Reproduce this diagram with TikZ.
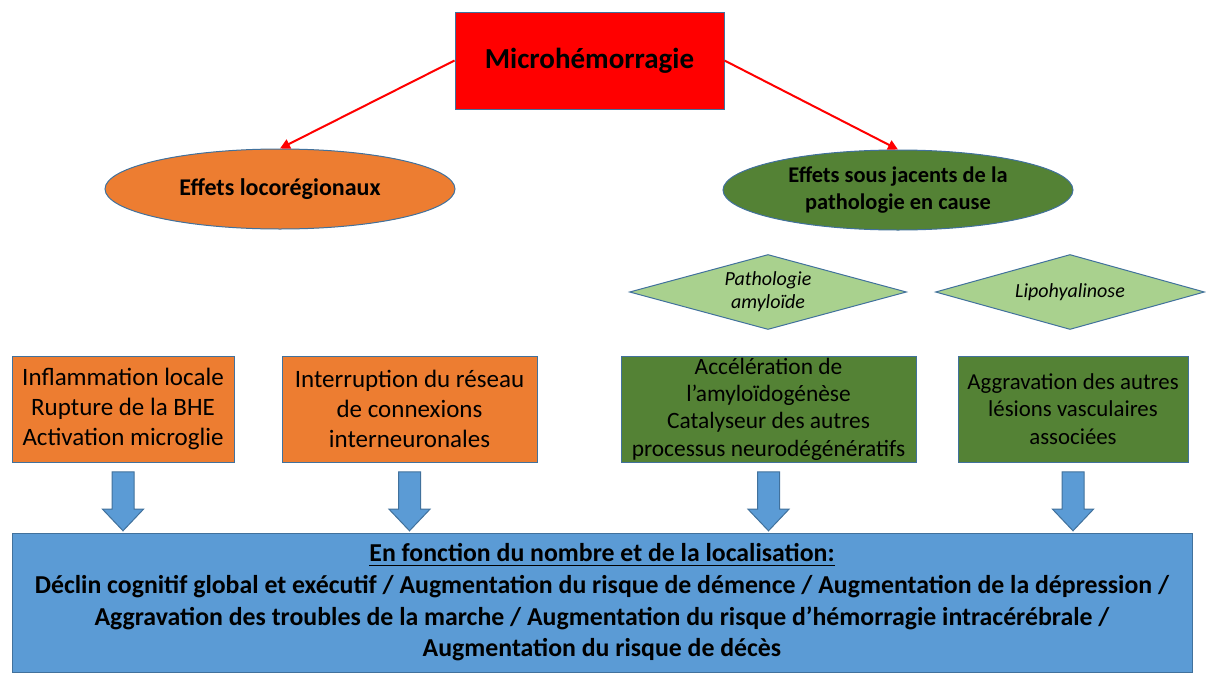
\documentclass[tikz,border=0pt]{standalone}
\usepackage{fontspec}
\setmainfont{Carlito}
\usepackage{tikz}
\usetikzlibrary{calc,shapes.geometric,shapes.arrows,arrows.meta}
\definecolor{rouge}{HTML}{FF0000}
\definecolor{orangeoff}{HTML}{ED7D31}
\definecolor{vertfonce}{HTML}{548235}
\definecolor{vertclair}{HTML}{A9D18E}
\definecolor{bleuoff}{HTML}{5B9BD5}
\definecolor{contour}{HTML}{41719C}

\begin{document}
\begin{tikzpicture}
[x=0.5pt,y=-0.5pt,>={Triangle[length=5pt,width=5pt]},
boite/.style={draw=contour,line width=0.5pt,rectangle,inner sep=0pt,minimum height=53pt,align=center,text=black},
bulle/.style={draw=contour,line width=0.5pt,ellipse,inner sep=0pt,minimum width=175pt,minimum height=40pt,align=center},
losange/.style={draw=contour,line width=0.5pt,diamond,fill=vertclair,inner sep=0pt,aspect=3.7,minimum height=37.5pt,align=center,font=\itshape\fontsize{10}{11.5}\selectfont},
fleche/.style={draw=contour,line width=0.5pt,fill=bleuoff,single arrow,shape border rotate=270,inner sep=5.25pt,minimum height=29.5pt,single arrow head extend=4.75pt,single arrow tip angle=87},
]
\useasboundingbox (0,0) rectangle (1206,675);

%Top box
\node (M) at (589.5,60.5)[boite,fill=rouge,minimum width=134.5pt,minimum height=48.5pt,font=\bfseries\fontsize{14.5}{17}\selectfont] {Microhémorragie};

%Ellipses
\node (L) at (280,189)[bulle,fill=orangeoff,font=\bfseries\fontsize{12}{14}\selectfont] {Effets locorégionaux};
\node (S) at (898,190)[bulle,fill=vertfonce,font=\bfseries\fontsize{11.2}{13.5}\selectfont] {Effets sous jacents de la\\pathologie en cause};

\draw[rouge,line width=1pt,->] (M.west) -- (L.north);
\draw[rouge,line width=1pt,->] (M.east) -- (S.north);

%Diamonds
\node (PA) at (768,292)[losange,minimum width=138.5pt] {Pathologie\\amyloïde};
\node (LH) at (1070,292)[losange,minimum width=134.5pt] {Lipohyalinose};

%Effect boxes
\node (B1) at (123,409)[boite,fill=orangeoff,minimum width=111pt,font=\fontsize{12.5}{15}\selectfont] {Inflammation locale\\Rupture de la BHE\\Activation microglie};
\node (B2) at (409.5,409)[boite,fill=orangeoff,minimum width=127.5pt,font=\fontsize{12.5}{15}\selectfont] {Interruption du réseau\\de connexions\\interneuronales};
\node (B3) at (768.5,409)[boite,fill=vertfonce,minimum width=147.5pt,font=\fontsize{11.7}{13.7}\selectfont] {Accélération de\\l’amyloïdogénèse\\Catalyseur des autres\\processus neurodégénératifs};
\node (B4) at (1073,409)[boite,fill=vertfonce,minimum width=115pt,font=\fontsize{11.4}{13.75}\selectfont] {Aggravation des autres\\lésions vasculaires\\associées};

%Bottom box
\node (R) at (602,602.5)[boite,fill=bleuoff,minimum width=590pt,minimum height=69.5pt,font=\bfseries\fontsize{12.9}{15.8}\selectfont] {\underline{En fonction du nombre et de la localisation:}\\Déclin cognitif global et exécutif / Augmentation du risque de démence / Augmentation de la dépression /\\Aggravation des troubles de la marche / Augmentation du risque d’hémorragie intracérébrale /\\Augmentation du risque de décès};

%Block arrows
\node (F1) at (123,495.5)[fleche] {};
\node (F2) at (409.5,495.5)[fleche] {};
\node (F3) at (768.5,495.5)[fleche] {};
\node (F4) at (1073,495.5)[fleche] {};

\end{tikzpicture}
\end{document}
